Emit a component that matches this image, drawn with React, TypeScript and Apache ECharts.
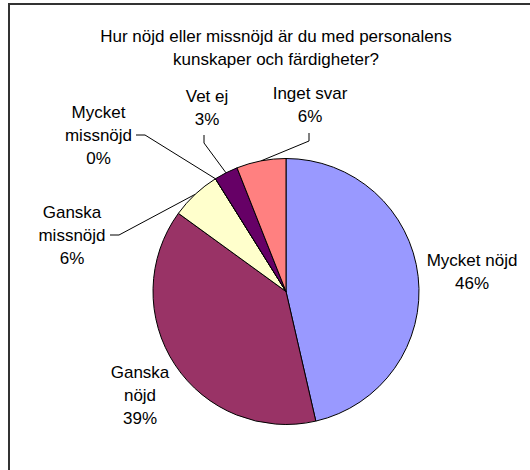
import React, { useEffect, useRef } from 'react';
import * as echarts from 'echarts';

const titleLines = ['Hur nöjd eller missnöjd är du med personalens', 'kunskaper och färdigheter?'];
const categories = ['Mycket nöjd', 'Ganska\nnöjd', 'Ganska\nmissnöjd', 'Mycket\nmissnöjd', 'Vet ej', 'Inget svar'];
const values = [46.4, 38.6, 6.1, 0, 2.9, 6.0];
const colors = ['#9999FF', '#993366', '#FFFFCC', '#CCFFFF', '#660066', '#FF8080'];
const showLeader = [false, false, true, true, true, true];

// layout (styles)
const CENTER: [number, number] = [286, 291.5];
const RADIUS = 133;
const FONT = '"Liberation Sans", Arial, Helvetica, sans-serif';
const labelPos: number[][] = [
  [472, 272],
  [140, 395],
  [72, 235],
  [98.5, 135],
  [207, 108],
  [310, 105],
];
const leaderTail: (number[][] | null)[] = [
  null,
  null,
  [[119, 235], [110, 235]],
  [[145, 135], [136, 135]],
  [[204, 143], [204, 135]],
  [[309, 141], [309, 133]],
];

function edgePoint(i: number): number[] {
  const total = values.reduce((a, b) => a + b, 0);
  let cum = 0;
  for (let k = 0; k < i; k++) cum += values[k];
  const frac = (cum + values[i] / 2) / total;
  const th = frac * Math.PI * 2;
  return [CENTER[0] + RADIUS * Math.sin(th), CENTER[1] - RADIUS * Math.cos(th)];
}

export default function App() {
  const ref = useRef<HTMLDivElement>(null);
  useEffect(() => {
    if (!ref.current) return;
    const chart = echarts.init(ref.current, undefined, { renderer: 'svg' });
    const data = categories.map((name, i) => ({
      name,
      value: values[i],
      itemStyle: { color: colors[i] },
      labelLine: { show: showLeader[i] },
    }));
    chart.setOption({
      animation: false,
      backgroundColor: '#fff',
      graphic: [
        {
          type: 'rect',
          silent: true,
          z: -10,
          shape: { x: 9, y: 4, width: 700, height: 700 },
          style: { fill: 'none', stroke: '#333', lineWidth: 2 },
        },
        {
          type: 'text',
          x: 276,
          y: 24.5,
          style: {
            text: titleLines.join('\n'),
            fill: '#000',
            fontSize: 17,
            fontFamily: FONT,
            lineHeight: 23,
            align: 'center',
            verticalAlign: 'top',
          },
        },
      ],
      series: [
        {
          type: 'pie',
          center: CENTER,
          radius: RADIUS,
          startAngle: 90,
          clockwise: true,
          avoidLabelOverlap: false,
          percentPrecision: 0,
          data,
          itemStyle: { borderColor: '#000', borderWidth: 1 },
          label: {
            show: true,
            position: 'outside',
            formatter: '{b}\n{d}%',
            color: '#000',
            fontSize: 17,
            lineHeight: 23,
            fontFamily: FONT,
            align: 'center',
          },
          labelLine: {
            show: true,
            length: 10,
            length2: 10,
            lineStyle: { color: '#000', width: 1 },
          },
          emphasis: { disabled: true },
          labelLayout: (params: any) => {
            const i = params.dataIndex;
            const [x, y] = labelPos[i];
            const res: any = { x, y, align: 'center', verticalAlign: 'middle' };
            const tail = leaderTail[i];
            if (tail) res.labelLinePoints = [edgePoint(i), ...tail];
            return res;
          },
        },
      ],
    });
    return () => chart.dispose();
  }, []);
  return (
    <div
      ref={ref}
      style={{ position: 'fixed', left: 0, top: 0, width: 530, height: 470, background: '#fff' }}
    />
  );
}
